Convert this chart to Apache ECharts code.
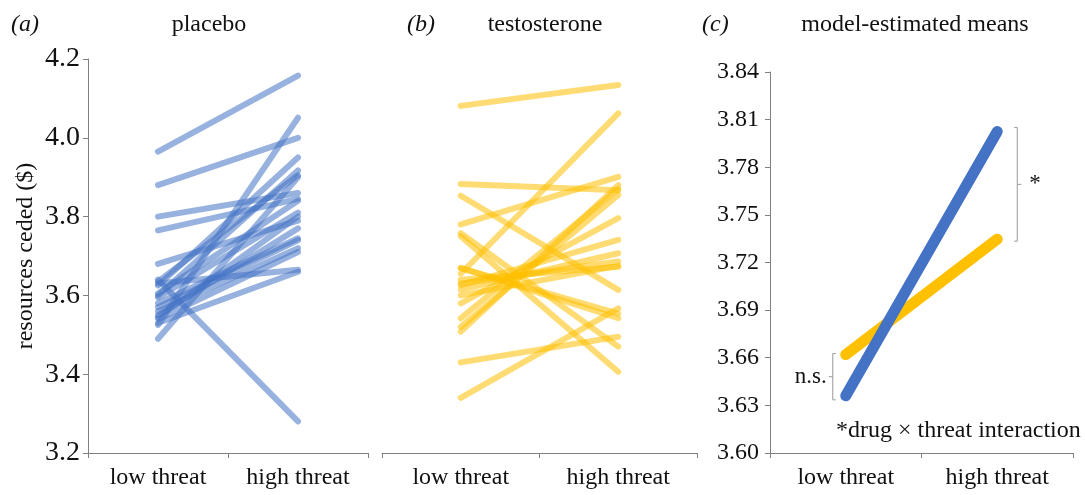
<!DOCTYPE html>
<html>
<head>
<meta charset="utf-8">
<script src="https://cdn.jsdelivr.net/npm/echarts@6/dist/echarts.min.js"></script>
<style>
  html, body { margin: 0; padding: 0; background: #fff; }
  #main { width: 1085px; height: 495px; }
</style>
</head>
<body>
<div id="main"></div>
<script>
// categories
var threatLevels = ['low threat', 'high threat'];

// (a) placebo, one line per participant
var placeboLow  = [3.965, 3.88, 3.80, 3.765, 3.68, 3.64, 3.525, 3.49, 3.63, 3.625, 3.60, 3.595, 3.58, 3.56, 3.55, 3.54, 3.53, 3.635, 3.605, 3.57, 3.545];
var placeboHigh = [4.158, 4.00, 3.86, 3.845, 3.79, 3.28, 4.051, 3.90, 3.665, 3.95, 3.917, 3.81, 3.745, 3.72, 3.77, 3.71, 3.66, 3.905, 3.84, 3.74, 3.80];

// (b) testosterone
var testoLow  = [4.081, 3.883, 3.853, 3.78, 3.758, 3.75, 3.655, 3.43, 3.34, 3.669, 3.508, 3.52, 3.542, 3.58, 3.626, 3.615, 3.63, 3.64, 3.60, 3.67];
var testoHigh = [4.134, 3.867, 3.614, 3.901, 3.47, 3.406, 4.062, 3.495, 3.567, 3.554, 3.88, 3.855, 3.87, 3.796, 3.741, 3.707, 3.686, 3.673, 3.675, 3.542];

// (c) model-estimated means
var meanPlacebo = [3.636, 3.8025];
var meanTesto   = [3.662, 3.7347];

var BLUE = '#4472C4', GOLD = '#FFC000', AXIS = '#808080';
var SERIF = '"Liberation Serif", "DejaVu Serif", serif';

var myChart = echarts.init(document.getElementById('main'));

function xAx(idx) {
  return {
    type: 'category', gridIndex: idx, data: threatLevels, boundaryGap: true,
    axisLine: { lineStyle: { color: AXIS, width: 1 } },
    axisTick: { show: true, interval: 0, length: 5, lineStyle: { color: AXIS } },
    axisLabel: { color: '#111', fontFamily: SERIF, fontSize: 24, margin: 13 }
  };
}

var series = [];
placeboLow.forEach(function (v, i) {
  series.push({
    type: 'line', xAxisIndex: 0, yAxisIndex: 0, symbol: 'none', silent: true,
    data: [v, placeboHigh[i]],
    lineStyle: { color: BLUE, width: 6, opacity: 0.55, cap: 'round' }
  });
});
testoLow.forEach(function (v, i) {
  series.push({
    type: 'line', xAxisIndex: 1, yAxisIndex: 1, symbol: 'none', silent: true,
    data: [v, testoHigh[i]],
    lineStyle: { color: GOLD, width: 6, opacity: 0.55, cap: 'round' }
  });
});
series.push({
  type: 'line', xAxisIndex: 2, yAxisIndex: 2, symbol: 'none', silent: true,
  data: meanTesto, lineStyle: { color: GOLD, width: 11, cap: 'round' }
});
series.push({
  type: 'line', xAxisIndex: 2, yAxisIndex: 2, symbol: 'none', silent: true,
  data: meanPlacebo, lineStyle: { color: BLUE, width: 11, cap: 'round' }
});

var titleStyle = { fontFamily: SERIF, fontSize: 24, fontWeight: 'normal', color: '#111' };
var italicStyle = { fontFamily: SERIF, fontSize: 24, fontWeight: 'normal', fontStyle: 'italic', color: '#111' };

option = {
  animation: false,
  backgroundColor: '#fff',
  title: [
    { text: '(a)', left: 6, top: 8, textStyle: italicStyle },
    { text: 'placebo', left: 204, top: 8, textAlign: 'center', textStyle: titleStyle },
    { text: '(b)', left: 402, top: 8, textStyle: italicStyle },
    { text: 'testosterone', left: 540, top: 8, textAlign: 'center', textStyle: titleStyle },
    { text: '(c)', left: 697, top: 8, textStyle: italicStyle },
    { text: 'model-estimated means', left: 910, top: 8, textAlign: 'center', textStyle: titleStyle }
  ],
  grid: [
    { left: 88, top: 59, width: 280, height: 394 },
    { left: 382, top: 59, width: 315, height: 394 },
    { left: 770, top: 72, width: 303, height: 381 }
  ],
  xAxis: [xAx(0), xAx(1), xAx(2)],
  yAxis: [
    {
      type: 'value', gridIndex: 0, min: 3.2, max: 4.2, interval: 0.2,
      name: 'resources ceded ($)', nameLocation: 'middle', nameGap: 50,
      nameTextStyle: { fontFamily: SERIF, fontSize: 24, color: '#111' },
      splitLine: { show: false },
      axisLine: { show: true, lineStyle: { color: AXIS } },
      axisTick: { show: true, length: 5, lineStyle: { color: AXIS } },
      axisLabel: { color: '#111', fontFamily: SERIF, fontSize: 28, margin: 8,
        formatter: function (v) { return v.toFixed(1); } }
    },
    {
      type: 'value', gridIndex: 1, min: 3.2, max: 4.2, interval: 0.2,
      splitLine: { show: false }, axisLine: { show: false },
      axisTick: { show: false }, axisLabel: { show: false }
    },
    {
      type: 'value', gridIndex: 2, min: 3.6, max: 3.84, interval: 0.03,
      splitLine: { show: false },
      axisLine: { show: true, lineStyle: { color: AXIS } },
      axisTick: { show: true, length: 5, lineStyle: { color: AXIS } },
      axisLabel: { color: '#111', fontFamily: SERIF, fontSize: 24, margin: 11,
        formatter: function (v) { return v.toFixed(2); } }
    }
  ],
  series: series
};
myChart.setOption(option);

// significance brackets in panel (c), placed from the model means
function py(v) { return myChart.convertToPixel({ yAxisIndex: 2 }, v); }
function px(i) { return myChart.convertToPixel({ xAxisIndex: 2 }, i); }
var bc = '#9a9a9a';
var xl = px(0) - 13, xh = px(1) + 20;
var l1 = py(meanTesto[0]) - 1, l2 = py(meanPlacebo[0]) + 4;
var h1 = py(meanPlacebo[1]) - 4, h2 = py(meanTesto[1]) + 2;
var lm = (l1 + l2) / 2, hm = (h1 + h2) / 2;
function seg(x1, y1, x2, y2) {
  return { type: 'line', silent: true, shape: { x1: x1, y1: y1, x2: x2, y2: y2 },
    style: { stroke: bc, lineWidth: 1 } };
}
myChart.setOption({
  graphic: [
    seg(xl, l1, xl, l2), seg(xl, l1, xl + 3, l1), seg(xl, l2, xl + 3, l2), seg(xl - 4, lm, xl, lm),
    seg(xh, h1, xh, h2), seg(xh - 3, h1, xh, h1), seg(xh - 3, h2, xh, h2), seg(xh, hm, xh + 4, hm),
    { type: 'text', silent: true, x: xl - 6, y: lm, style: { text: 'n.s.', align: 'right', verticalAlign: 'middle',
      font: '23px ' + SERIF, fill: '#111' } },
    { type: 'text', silent: true, x: xh + 12, y: hm, style: { text: '*', align: 'left', verticalAlign: 'middle',
      font: '23px ' + SERIF, fill: '#111' } },
    { type: 'text', silent: true, x: 836, y: 431, style: { text: '*drug \u00d7 threat interaction', align: 'left',
      verticalAlign: 'middle', font: '24px ' + SERIF, fill: '#111' } }
  ]
});
</script>
</body>
</html>
